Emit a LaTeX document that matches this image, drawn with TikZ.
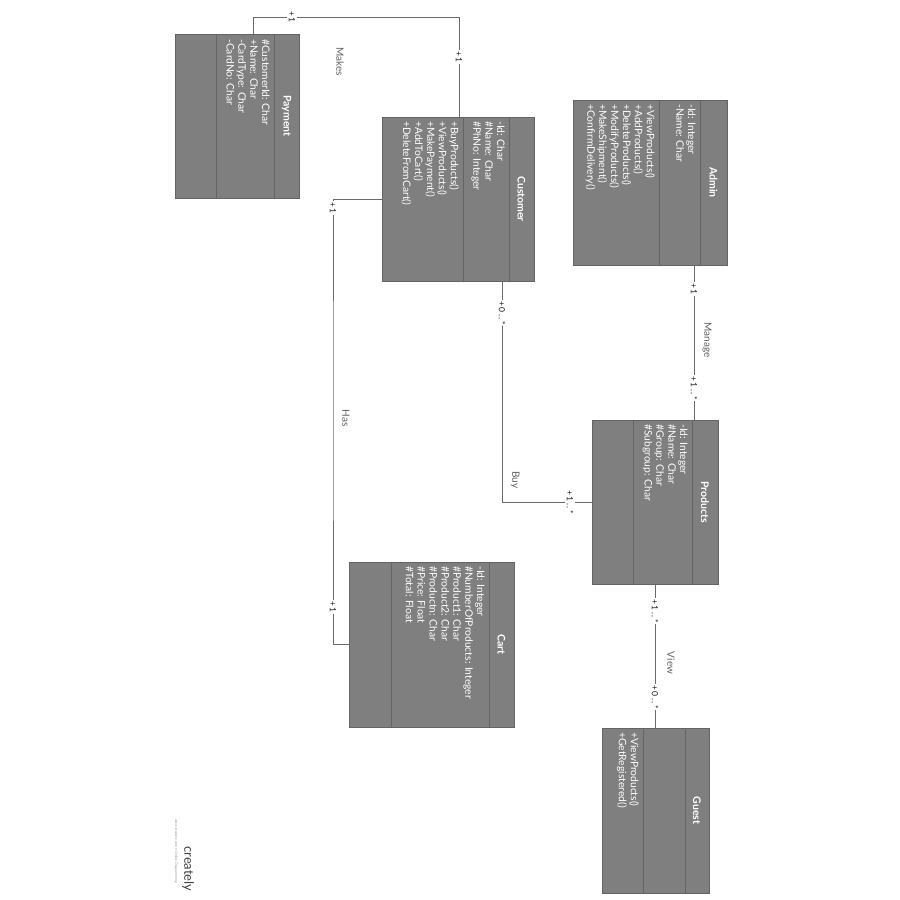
\documentclass[tikz,border=0pt]{standalone}
\usepackage{fontspec}
\setmainfont{Lato}
\newfontfamily\multfont[LetterSpace=18]{Lato}
\usetikzlibrary{calc}
\definecolor{boxfill}{HTML}{7F7F7F}
\definecolor{boxline}{HTML}{646464}
\definecolor{wire}{HTML}{6A6A6A}
\tikzset{
  classbox/.style={draw=boxline, fill=boxfill, line width=1pt, inner sep=0pt, outer sep=0pt, anchor=north west},
  divider/.style={draw=boxline, line width=1pt},
  classtitle/.style={rotate=-90, text=white, inner sep=0pt, font=\fontsize{10.5}{12}\selectfont\bfseries},
  members/.style={rotate=-90, anchor=north west, inner sep=0pt, text=white, align=left, font=\fontsize{10.3}{11.9}\selectfont},
  wireline/.style={draw=wire, line width=1pt},
  mult/.style={rotate=-90, fill=white, inner sep=1.5pt, font=\fontsize{8.5}{10}\multfont, text=black!90},
  assoc/.style={rotate=-90, inner sep=0pt, font=\fontsize{10}{12}\selectfont, text=black!62},
}
\begin{document}
\begin{tikzpicture}[x=1pt, y=-1pt]
\fill[white] (0,0) rectangle (900,900);
\useasboundingbox (0,0) rectangle (900,900);

% ---------- Payment ----------
\node[classbox, minimum width=124pt, minimum height=164pt] (payment) at (175,34) {};
\draw[divider] (274,34) -- (274,198);
\draw[divider] (216,34) -- (216,198);
\node[classtitle] (paymentT) at (286.5,116) {Payment};
\node[members] (paymentA) at (270,39) {\#CustomerId: Char\\+Name: Char\\-CardType: Char\\-CardNo: Char};

% ---------- Customer ----------
\node[classbox, minimum width=152pt, minimum height=164pt] (customer) at (382,117) {};
\draw[divider] (509,117) -- (509,281);
\draw[divider] (463,117) -- (463,281);
\node[classtitle] (customerT) at (521.5,199) {Customer};
\node[members] (customerA) at (505,121) {-Id: Char\\\#Name: Char\\\#PhNo: Integer};
\node[members] (customerM) at (459,121) {+BuyProducts()\\+ViewProducts()\\+MakePayment()\\+AddToCart()\\+DeleteFromCart()};

% ---------- Admin ----------
\node[classbox, minimum width=154pt, minimum height=165pt] (admin) at (573,100) {};
\draw[divider] (700,100) -- (700,265);
\draw[divider] (659,100) -- (659,265);
\node[classtitle] (adminT) at (713.5,182.5) {Admin};
\node[members] (adminA) at (696,104) {-Id: Integer\\-Name: Char};
\node[members] (adminM) at (655,104) {+ViewProducts()\\+AddProducts()\\+DeleteProducts()\\+ModifyProducts()\\+MakeShipment()\\+ConfirmDelivery()};

% ---------- Products ----------
\node[classbox, minimum width=126pt, minimum height=164pt] (products) at (592,420) {};
\draw[divider] (692,420) -- (692,584);
\draw[divider] (633,420) -- (633,584);
\node[classtitle] (productsT) at (705,502) {Products};
\node[members] (productsA) at (688,424) {-Id: Integer\\\#Name: Char\\\#Group: Char\\\#Subgroup: Char};

% ---------- Cart ----------
\node[classbox, minimum width=165pt, minimum height=165pt] (cart) at (349,562) {};
\draw[divider] (489,562) -- (489,727);
\draw[divider] (391,562) -- (391,727);
\node[classtitle] (cartT) at (501.5,644.5) {Cart};
\node[members] (cartA) at (485,566) {-Id: Integer\\\#NumberOfProducts: Integer\\\#Product1: Char\\\#Product2: Char\\\#Productn: Char\\\#Price: Float\\\#Total: Float};

% ---------- Guest ----------
\node[classbox, minimum width=107pt, minimum height=165pt] (guest) at (602,728) {};
\draw[divider] (685,728) -- (685,893);
\draw[divider] (643,728) -- (643,893);
\node[classtitle] (guestT) at (697,810.5) {Guest};
\node[members] (guestM) at (639,732) {+ViewProducts()\\+GetRegistered()};

% ---------- Associations ----------
% Makes
\coordinate (mkA) at (253,17);
\coordinate (mkB) at (459,17);
\draw[wireline] (payment.north -| mkA) -- (mkA) -- (mkB) -- (customer.north -| mkB);
\node[mult] (mk1) at (292,17) {+1};
\node[mult] (mk2) at (459,57) {+1};
\node[assoc] (mkL) at (340,62) {Makes};

% Has
\coordinate (hs) at (333,400);
\draw[wireline] (customer.west) -| (hs) |- (cart.west);
\node[mult] (hs1) at (333,208) {+1};
\node[mult] (hs2) at (333,607) {+1};
\node[assoc] (hsL) at (346,418) {Has};

% Buy
\coordinate (by) at (502,400);
\draw[wireline] (customer.south -| by) |- (products.west);
\node[mult] (by1) at (502,313) {+0..*};
\node[mult] (by2) at (570,502) {+1..*};
\node[assoc] (byL) at (515,480) {Buy};

% Manage
\coordinate (mg) at (694,340);
\draw[wireline] (admin.south -| mg) -- (products.north -| mg);
\node[mult] (mg1) at (694,289) {+1};
\node[mult] (mg2) at (694,388) {+1..*};
\node[assoc] (mgL) at (707,340) {Manage};

% View
\draw[wireline] (products.south) -- (guest.north -| products.south);
\node[mult] (vw1) at (655,611) {+1..*};
\node[mult] (vw2) at (655,697) {+0..*};
\node[assoc] (vwL) at (671,663) {View};

% ---------- Logo ----------
\node[rotate=-90, inner sep=0pt, font=\fontsize{13}{13}\selectfont, text=black!75] (logo) at (188,869) {creately};
\node[rotate=-90, inner sep=0pt, font=\fontsize{3.5}{4}\selectfont, text=black!40] (tag) at (176,851) {www.creately.com • Online Diagramming};
\end{tikzpicture}
\end{document}
